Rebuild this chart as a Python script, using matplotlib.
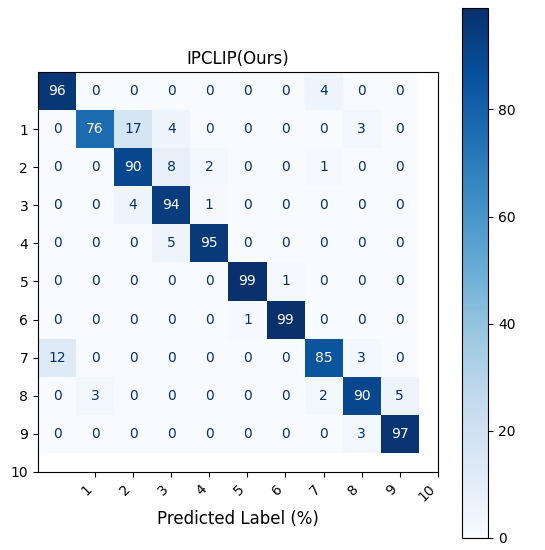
import matplotlib
matplotlib.use("Agg")
import matplotlib.pyplot as plt
import numpy as np

title = "IPCLIP(Ours)"
xlabel = "Predicted Label (%)"
tick_labels = [str(i) for i in range(1, 11)]
matrix = np.array([
    [96, 0, 0, 0, 0, 0, 0, 4, 0, 0],
    [0, 76, 17, 4, 0, 0, 0, 0, 3, 0],
    [0, 0, 90, 8, 2, 0, 0, 1, 0, 0],
    [0, 0, 4, 94, 1, 0, 0, 0, 0, 0],
    [0, 0, 0, 5, 95, 0, 0, 0, 0, 0],
    [0, 0, 0, 0, 0, 99, 1, 0, 0, 0],
    [0, 0, 0, 0, 0, 1, 99, 0, 0, 0],
    [12, 0, 0, 0, 0, 0, 0, 85, 3, 0],
    [0, 3, 0, 0, 0, 0, 0, 2, 90, 5],
    [0, 0, 0, 0, 0, 0, 0, 0, 3, 97],
])

fig = plt.figure(figsize=(5.45, 5.5), dpi=100)
ax = fig.add_axes([0.066, 0.142, 0.741, 0.727])
cax = fig.add_axes([0.848, 0.022, 0.048, 0.964])
im = ax.imshow(matrix, cmap="Blues", vmin=0, vmax=matrix.max())
fig.colorbar(im, cax=cax)
thresh = matrix.max() / 2
for i in range(matrix.shape[0]):
    for j in range(matrix.shape[1]):
        v = matrix[i, j]
        ax.text(j, i, str(v), ha="center", va="center",
                color="white" if v > thresh else "#08306b", fontsize=10)
ticks = np.arange(1, 11)
ax.set_xticks(ticks)
ax.set_xticklabels(tick_labels, rotation=45, ha="right")
ax.set_yticks(ticks)
ax.set_yticklabels(tick_labels)
ax.set_xlim(-0.5, 10)
ax.set_ylim(10, -0.5)
ax.set_title(title, fontsize=12)
ax.set_xlabel(xlabel, fontsize=12)
fig.savefig("out.png", dpi=100)
